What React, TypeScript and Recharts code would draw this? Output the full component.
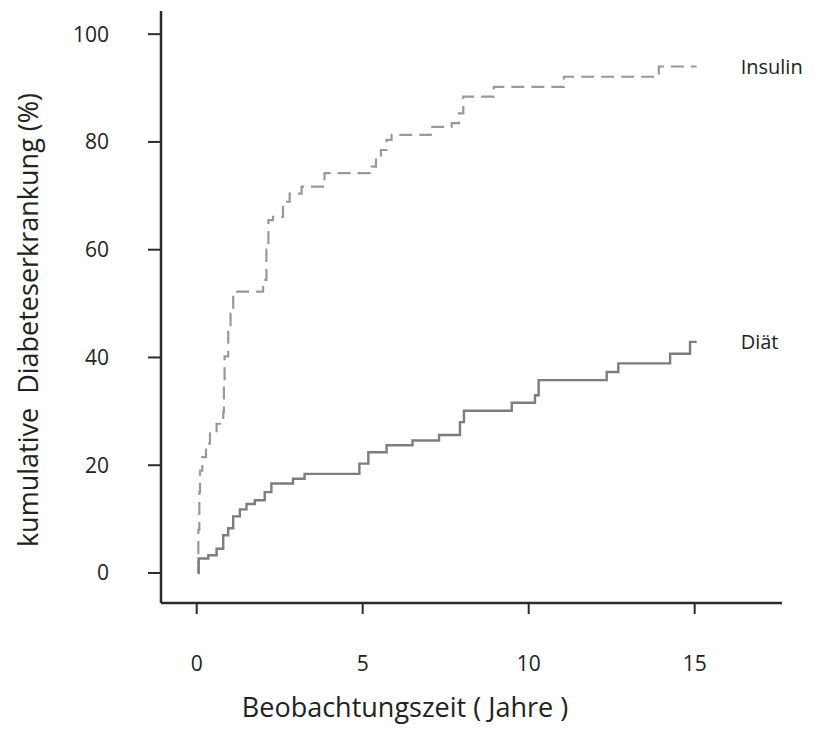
import React from "react"
import { LineChart, Line, XAxis, YAxis, ReferenceDot, Label } from "recharts"

// Beobachtungszeit (Jahre) / kumulative Diabeteserkrankung (%)
const insulinYears = [
  0.02, 0.05, 0.08, 0.1, 0.17, 0.28, 0.4, 0.6, 0.8, 0.82, 0.84, 0.95, 1.02, 1.1, 2.0, 2.1, 2.16, 2.3, 2.6,
  2.8, 3.16, 3.85, 5.27, 5.4, 5.55, 5.72, 5.87, 7.05, 7.68, 7.9, 8.03, 8.95, 11.06, 13.92, 15.06,
]
const insulinPct = [
  0, 8, 15, 19, 21.5, 24, 25.9, 27.7, 29.9, 35, 40.2, 45, 48.2, 52.2, 54.4, 60, 65.5, 66.1, 68.9, 70.4,
  71.7, 74.2, 75.4, 77, 78.5, 80.4, 81.3, 82.8, 83.5, 85.3, 88.4, 90.2, 92.1, 94, 94,
]

const diaetYears = [
  0.05, 0.06, 0.35, 0.6, 0.8, 0.95, 1.1, 1.3, 1.5, 1.75, 2.05, 2.25, 2.9, 3.25, 4.9, 5.17, 5.72, 6.5, 7.3,
  7.93, 8.05, 9.49, 10.19, 10.3, 12.35, 12.7, 14.26, 14.86, 15.06,
]
const diaetPct = [
  0, 2.7, 3.3, 4.5, 7, 8.3, 10.5, 11.8, 12.8, 13.5, 15, 16.6, 17.5, 18.4, 20.3, 22.4, 23.7, 24.6, 25.6,
  28, 30.1, 31.6, 33, 35.8, 37.3, 38.9, 40.7, 42.9, 42.9,
]

const xTicks = [0, 5, 10, 15]
const yTicks = [0, 20, 40, 60, 80, 100]

const insulinData = insulinYears.map((t, i) => ({ t, v: insulinPct[i] }))
const diaetData = diaetYears.map((t, i) => ({ t, v: diaetPct[i] }))

const font = "'Open Sans', 'Noto Sans', sans-serif"
const axisColor = "#2b2b2b"

export default function App() {
  return (
    <div style={{ position: "absolute", left: 0, top: 0, background: "#fff" }}>
      <LineChart width={814} height={729} margin={{ top: 11, right: 32, bottom: 0, left: 0 }}>
        <XAxis
          dataKey="t"
          type="number"
          domain={[-1.075, 17.63]}
          ticks={xTicks}
          height={126}
          tickSize={11}
          tickMargin={42}
          axisLine={{ stroke: axisColor, strokeWidth: 2.5 }}
          tickLine={{ stroke: axisColor, strokeWidth: 2 }}
          tick={{ fill: "#222", fontSize: 21, fontFamily: font }}
        >
          <Label
            content={() => (
              <text x={405} y={717} textAnchor="middle" fontSize={27} fontFamily={font} fill="#222">
                Beobachtungszeit ( Jahre )
              </text>
            )}
          />
        </XAxis>
        <YAxis
          type="number"
          domain={[-5.57, 104.3]}
          ticks={yTicks}
          width={161}
          tickSize={13}
          tickMargin={39}
          axisLine={{ stroke: axisColor, strokeWidth: 2.5 }}
          tickLine={{ stroke: axisColor, strokeWidth: 2 }}
          tick={{ fill: "#222", fontSize: 21, fontFamily: font }}
        >
          <Label
            content={() => (
              <text
                x={38}
                y={320}
                transform="rotate(-90 38 320)"
                textAnchor="middle"
                fontSize={27}
                fontFamily={font}
                fill="#222"
              >
                {"kumulative\u00a0\u00a0Diabeteserkrankung (%)"}
              </text>
            )}
          />
        </YAxis>
        <Line
          data={insulinData}
          dataKey="v"
          type="stepAfter"
          stroke="#999"
          strokeWidth={2.2}
          strokeDasharray="13 7"
          dot={false}
          isAnimationActive={false}
        />
        <Line
          data={diaetData}
          dataKey="v"
          type="stepAfter"
          stroke="#7d7d7d"
          strokeWidth={2.4}
          dot={false}
          isAnimationActive={false}
        />
        <ReferenceDot
          x={15.06}
          y={94}
          r={0}
          fill="none"
          stroke="none"
          label={{ value: "Insulin", position: "right", offset: 44, fontSize: 20, fontFamily: font, fill: "#222" }}
        />
        <ReferenceDot
          x={15.06}
          y={42.9}
          r={0}
          fill="none"
          stroke="none"
          label={{ value: "Diät", position: "right", offset: 44, fontSize: 20, fontFamily: font, fill: "#222" }}
        />
      </LineChart>
    </div>
  )
}
